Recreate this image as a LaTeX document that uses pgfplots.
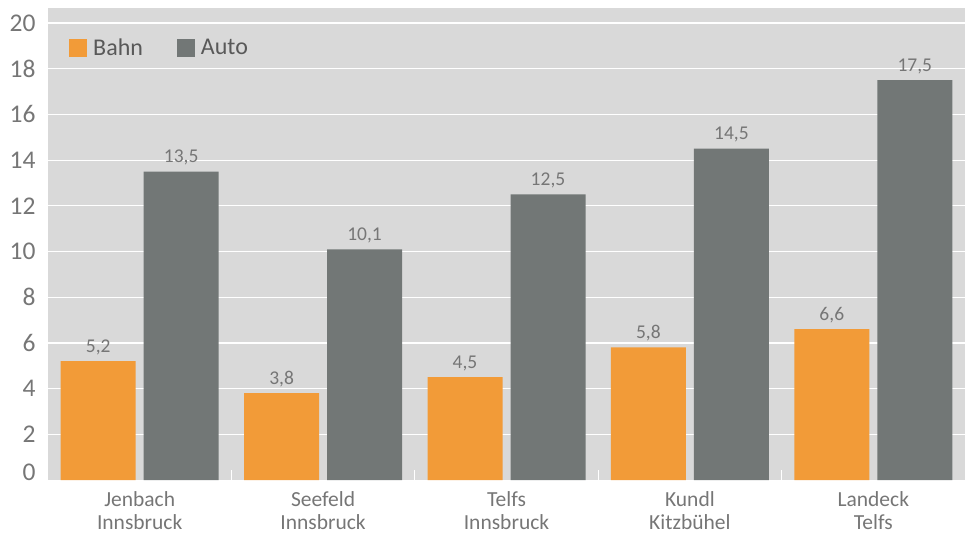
\documentclass[border=0pt]{standalone}
\usepackage{pgfplots}
\pgfplotsset{compat=1.18}
\usepackage{fontspec}
\setmainfont{Carlito}
\definecolor{bahn}{HTML}{F29B38}
\definecolor{auto}{HTML}{727776}
\definecolor{plotbg}{HTML}{D9D9D9}
\definecolor{txt}{HTML}{767676}
\definecolor{legtxt}{HTML}{595959}
\begin{document}
\begin{tikzpicture}
\path[use as bounding box] (-48pt,-55pt) rectangle (923pt,480pt);
\begin{axis}[
  at={(0pt,0pt)}, anchor=south west,
  scale only axis,
  width=917pt, height=472pt,
  axis background/.style={fill=plotbg},
  axis line style={draw=none},
  xmin=-0.5, xmax=4.5,
  ymin=0, ymax=20.66,
  ytick={2,4,...,20},
  extra y ticks={0},
  extra y tick style={grid=none, yticklabel style={yshift=8pt}},
  xtick={0,1,2,3,4},
  xtick pos=lower,
  xticklabels={{Jenbach\\Innsbruck},{Seefeld\\Innsbruck},{Telfs\\Innsbruck},{Kundl\\Kitzbühel},{Landeck\\Telfs}},
  xticklabel style={align=center, font=\fontsize{21.5pt}{23pt}\selectfont, text=txt,
    inner sep=0pt, yshift=-11pt},
  yticklabel style={font=\fontsize{25.5pt}{28pt}\selectfont, text=txt, xshift=-9pt},
  /pgf/number format/assume math mode=true,
  major tick length=0pt,
  ymajorgrids,
  grid style={white, line width=1.3pt},
  extra x ticks={0.5,1.5,2.5,3.5},
  extra x tick labels={},
  extra x tick style={grid=none, major tick length=10pt, tick align=inside,
    tick style={white, line width=1.2pt}},
  ybar,
  bar width=75pt,
  nodes near coords,
  every node near coord/.append style={font=\fontsize{19.5pt}{22pt}\selectfont, text=txt, yshift=3pt,
    /pgf/number format/.cd, fixed, fixed zerofill, precision=1, use comma},
  legend style={at={(18pt,432pt)}, anchor=west, draw=none, fill=none,
    legend columns=2, font=\fontsize{24pt}{28pt}\selectfont, text=legtxt,
    /tikz/every odd column/.append style={column sep=4pt},
    /tikz/every even column/.append style={column sep=32pt}},
  legend image code/.code={\fill[#1,draw=none] (0pt,-9pt) rectangle (18pt,9pt);},
]
\addplot[fill=bahn, draw=none, bar shift=-41.5pt] coordinates {(0,5.2) (1,3.8) (2,4.5) (3,5.8) (4,6.6)};
\addplot[fill=auto, draw=none, bar shift=41.5pt] coordinates {(0,13.5) (1,10.1) (2,12.5) (3,14.5) (4,17.5)};
\legend{Bahn, Auto}
\end{axis}
\end{tikzpicture}
\end{document}
